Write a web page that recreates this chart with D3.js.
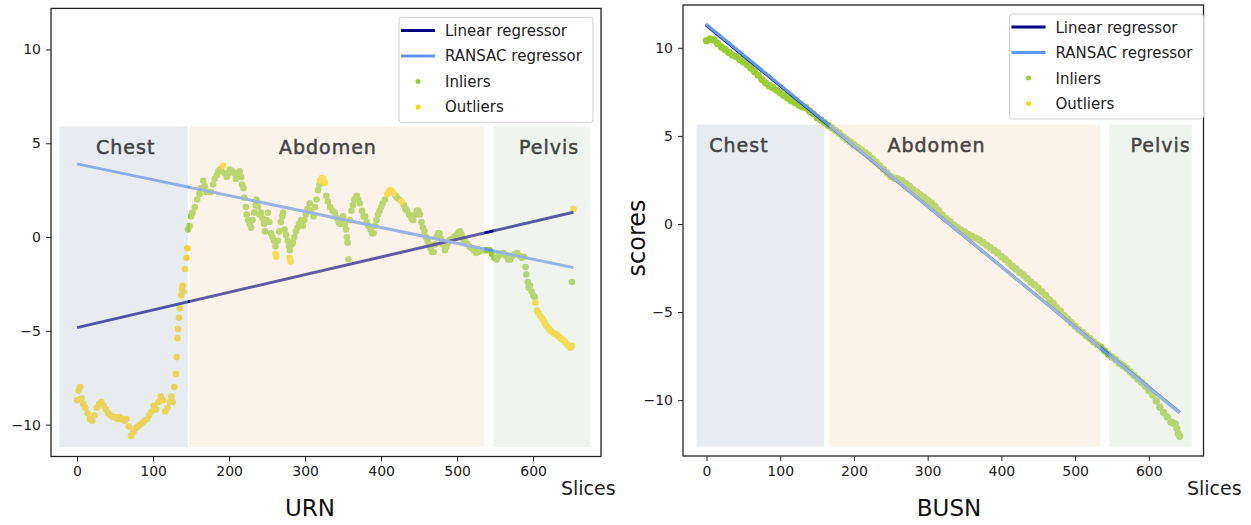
<!DOCTYPE html>
<html>
<head>
<meta charset="utf-8">
<script src="https://cdn.jsdelivr.net/npm/d3@7"></script>
<style>
  body { margin: 0; background: #fff; }
  text { font-family: 'DejaVu Sans', sans-serif; }
</style>
</head>
<body>
<div id="chart"></div>
<script>
// ---- data ----
const xTicks = [0, 100, 200, 300, 400, 500, 600]
const yTicks = [-10, -5, 0, 5, 10]
const legendLabels = ['Linear regressor', 'RANSAC regressor', 'Inliers', 'Outliers']
const regionNames = ['Chest', 'Abdomen', 'Pelvis']

// URN panel (slice, score)
const urnInliers = [
  [146,0.4],[148,0.6],[150,1.1],[152,1.3],[155,1.6],[158,2.0],[161,2.3],[163,2.6],[166,3.0],[168,2.7],
  [170,2.4],[173,2.4],[176,2.4],[179,2.8],[181,3.1],[184,3.3],[186,3.5],[188,3.6],[190,3.5],[194,3.4],
  [197,3.2],[199,3.4],[201,3.6],[204,3.5],[207,3.4],[209,3.1],[211,3.3],[214,3.5],[216,3.2],[217,2.8],
  [219,2.6],[220,2.1],[222,1.6],[223,1.2],[225,0.9],[227,0.7],[229,0.5],[231,0.9],[233,1.3],[235,1.7],
  [236,2.0],[238,1.6],[240,1.2],[242,1.3],[244,1.0],[246,0.7],[247,0.3],[249,0.9],[251,1.3],[253,0.8],
  [255,0.2],[257,0.0],[259,-0.2],[261,-0.5],[264,-0.2],[266,0.3],[268,0.8],[270,1.1],[271,1.3],[273,0.4],
  [275,0.1],[277,-0.2],[279,-0.5],[280,-0.7],[282,-0.4],[284,-0.3],[286,0.0],[288,0.3],[290,0.5],[292,0.7],
  [295,0.9],[297,0.6],[299,0.9],[301,1.2],[303,1.5],[306,1.8],[308,1.4],[311,1.1],[313,1.6],[315,2.0],
  [317,2.5],[319,2.8],[328,2.2],[330,1.9],[333,1.6],[336,1.4],[339,1.3],[342,1.0],[344,0.8],[346,0.7],
  [348,0.9],[350,1.1],[352,0.7],[354,0.4],[355,0.0],[356,-0.3],[357,-1.2],[359,0.9],[361,1.4],[363,1.7],
  [365,2.0],[368,2.2],[370,2.0],[372,1.8],[375,1.4],[377,1.1],[379,1.1],[381,0.8],[383,0.6],[386,0.4],
  [388,0.2],[390,0.2],[392,0.6],[394,0.9],[396,1.2],[398,1.4],[400,1.6],[402,1.8],[405,2.0],[419,2.2],
  [421,2.1],[424,2.0],[430,1.7],[432,1.5],[434,1.4],[437,1.2],[440,1.0],[442,0.9],[445,1.2],[447,1.4],
  [449,1.4],[451,1.2],[453,0.8],[455,0.5],[457,0.3],[459,0.0],[461,-0.2],[463,-0.4],[465,-0.6],[467,-0.8],
  [469,-0.8],[471,-0.4],[473,0.0],[475,0.2],[477,0.2],[479,-0.1],[481,-0.4],[484,-0.7],[486,-0.5],[488,-0.3],
  [490,-0.15],[493,-0.1],[496,0.0],[499,0.1],[502,0.25],[504,0.3],[506,0.1],[508,-0.1],[510,-0.2],[513,-0.35],
  [516,-0.5],[519,-0.6],[522,-0.7],[525,-0.85],[528,-0.8],[531,-0.7],[534,-0.7],[537,-0.7],[540,-0.7],[543,-0.7],
  [546,-0.9],[549,-1.1],[552,-1.2],[555,-1.0],[558,-0.9],[561,-0.85],[564,-1.0],[567,-1.2],[570,-1.2],[573,-1.0],
  [576,-0.9],[579,-0.85],[582,-1.0],[585,-1.1],[588,-1.05],[590,-1.6],[591,-2.0],[593,-2.4],[594,-2.7],[596,-2.6],
  [598,-2.9],[600,-3.1],[602,-3.2],[651,-2.4]
]
const urnOutliers = [
  [0,-8.7],[2,-8.2],[4,-8.0],[6,-8.6],[8,-8.9],[11,-9.1],[14,-9.4],[17,-9.7],[20,-9.8],[23,-9.5],
  [26,-9.1],[29,-8.9],[32,-8.8],[35,-9.0],[38,-9.2],[41,-9.4],[44,-9.5],[47,-9.6],[50,-9.6],[53,-9.7],
  [56,-9.6],[59,-9.7],[62,-9.8],[65,-9.7],[68,-10.1],[71,-10.6],[74,-10.4],[77,-10.2],[80,-10.1],[83,-10.0],
  [86,-9.9],[89,-9.8],[92,-9.7],[95,-9.5],[98,-9.3],[101,-9.0],[104,-9.2],[107,-8.8],[110,-8.5],[113,-8.7],
  [116,-9.3],[119,-9.1],[122,-8.8],[124,-8.5],[126,-8.8],[128,-8.0],[130,-7.3],[131,-6.4],[132,-5.4],[133,-4.9],
  [134,-4.3],[135,-3.8],[137,-3.1],[138,-2.8],[139,-2.6],[140,-2.9],[142,-1.7],[144,-1.1],[145,-0.6],
  [192,3.8],[261,-0.9],[262,-1.05],[280,-1.1],[281,-1.3],[320,3.0],[322,3.15],[324,3.1],[326,2.9],
  [408,2.3],[410,2.4],[412,2.5],[414,2.45],[416,2.35],[427,1.9],
  [603,-3.5],[605,-3.9],[607,-4.05],[609,-4.2],[611,-4.3],[613,-4.4],[615,-4.55],[617,-4.7],[619,-4.8],[621,-4.9],
  [623,-5.0],[626,-5.1],[628,-5.15],[631,-5.2],[633,-5.3],[636,-5.4],[638,-5.45],[640,-5.5],[642,-5.6],[644,-5.7],
  [646,-5.8],[649,-5.9],[651,-5.8],[653,1.5]
]
const urnLinear = [[0, -4.83], [653, 1.32]]
const urnRansac = [[0, 3.9], [653, -1.63]]
const urnRegions = [[-23.4, 145.6], [148.2, 535.9], [548, 674.9]]
const urnRegionScores = [5.9, -11.2]
const urnLabelSlices = [64, 330, 621]

// BUSN panel (slice, score)
const busnInliers = [
  [0,10.4],[5,10.5],[10,10.45],[15,10.25],[20,10.05],[25,9.9],[30,9.75],[35,9.6],[40,9.5],[45,9.35],
  [50,9.2],[55,9.05],[60,8.85],[65,8.65],[70,8.45],[75,8.2],[80,8.0],[85,7.85],[90,7.75],[95,7.6],
  [100,7.45],[105,7.3],[110,7.15],[115,7.0],[120,6.9],[125,6.75],[130,6.65],[135,6.6],[140,6.4],[145,6.25],
  [150,6.05],[155,5.9],[160,5.75],[165,5.6],[170,5.45],[175,5.3],[180,5.15],[185,4.95],[190,4.8],[195,4.65],
  [200,4.5],[205,4.35],[210,4.2],[215,4.05],[220,3.9],[225,3.7],[230,3.5],[235,3.3],[240,3.1],[245,2.9],
  [250,2.7],[255,2.6],[260,2.55],[265,2.45],[270,2.3],[275,2.15],[280,1.95],[285,1.8],[290,1.65],[295,1.5],
  [300,1.35],[305,1.2],[310,1.0],[315,0.75],[320,0.5],[325,0.3],[330,0.15],[335,-0.05],[340,-0.2],[345,-0.35],
  [350,-0.45],[355,-0.6],[360,-0.7],[365,-0.8],[370,-0.9],[375,-1.05],[380,-1.2],[385,-1.35],[390,-1.5],[395,-1.65],
  [400,-1.85],[405,-2.0],[410,-2.2],[415,-2.4],[420,-2.55],[425,-2.75],[430,-2.9],[435,-3.1],[440,-3.3],[445,-3.45],
  [450,-3.65],[455,-3.85],[460,-4.05],[465,-4.3],[470,-4.5],[475,-4.75],[480,-4.95],[485,-5.2],[490,-5.4],[495,-5.6],
  [500,-5.8],[505,-6.0],[510,-6.15],[515,-6.35],[520,-6.5],[525,-6.7],[530,-6.85],[535,-7.0],[540,-7.2],[545,-7.4],
  [550,-7.55],[555,-7.7],[560,-7.9],[565,-8.05],[570,-8.2],[575,-8.4],[580,-8.6],[585,-8.8],[590,-9.0],[595,-9.2],
  [600,-9.45],[605,-9.7],[610,-10.05],[615,-10.4],[620,-10.7],[625,-10.95],[630,-11.25],[633,-11.3],[636,-11.35],[638,-11.6],
  [640,-11.9],[642,-12.05]
]
const busnOutliers = []
const busnLinear = [[-1, 11.3], [642, -10.7]]
const busnRansac = [[-1, 11.35], [642, -10.73]]
const busnRegions = [[-13.6, 159.7], [166.4, 534.3], [546.5, 658.3]]
const busnRegionScores = [5.65, -12.63]
const busnLabelSlices = [44, 312, 616]

// ---- styles ----
const colors = {
  linear: '#000080',
  ransac: '#6495ed',
  inlier: '#9acd32',
  outlier: '#ffd700',
  regions: ['#c6d0dc', '#f2e1ca', '#d9e3d4']
}

const svg = d3.select('#chart').append('svg')
  .attr('width', 1251).attr('height', 525)
  .attr('viewBox', [0, 0, 1251, 525])

function drawPanel(o) {
  const x = d3.scaleLinear().domain(o.xDomain).range([o.left, o.right])
  const y = d3.scaleLinear().domain(o.yDomain).range([o.bottom, o.top])
  const g = svg.append('g')

  // axes
  g.append('g')
    .attr('transform', `translate(0,${o.bottom})`)
    .call(d3.axisBottom(x).tickValues(xTicks).tickSize(5).tickPadding(5))
    .call(a => a.select('.domain').remove())
    .call(a => a.selectAll('text').attr('font-size', 14).attr('fill', '#222'))
    .call(a => a.selectAll('line').attr('stroke', '#222'))
  g.append('g')
    .attr('transform', `translate(${o.left},0)`)
    .call(d3.axisLeft(y).tickValues(yTicks).tickSize(5).tickPadding(5))
    .call(a => a.select('.domain').remove())
    .call(a => a.selectAll('text').attr('font-size', 14).attr('fill', '#222'))
    .call(a => a.selectAll('line').attr('stroke', '#222'))

  const plot = g.append('g')
  const line = d3.line().x(d => x(d[0])).y(d => y(d[1]))

  plot.selectAll('circle.in').data(o.inliers).join('circle')
    .attr('class', 'in')
    .attr('cx', d => x(d[0])).attr('cy', d => y(d[1]))
    .attr('r', o.r).attr('fill', colors.inlier)
  plot.selectAll('circle.out').data(o.outliers).join('circle')
    .attr('class', 'out')
    .attr('cx', d => x(d[0])).attr('cy', d => y(d[1]))
    .attr('r', o.r).attr('fill', colors.outlier)

  plot.append('path').datum(o.linear).attr('d', line)
    .attr('fill', 'none').attr('stroke', colors.linear).attr('stroke-width', 3)
  plot.append('path').datum(o.ransac).attr('d', line)
    .attr('fill', 'none').attr('stroke', colors.ransac).attr('stroke-width', 3)

  // shaded regions drawn over the data, like axvspan
  o.regions.forEach((r, i) => {
    plot.append('rect')
      .attr('x', x(r[0])).attr('width', x(r[1]) - x(r[0]))
      .attr('y', y(o.regionScores[0]))
      .attr('height', y(o.regionScores[1]) - y(o.regionScores[0]))
      .attr('fill', colors.regions[i]).attr('fill-opacity', 0.4)
    plot.append('text')
      .attr('x', x(o.labelSlices[i]))
      .attr('y', y(o.regionScores[0]) + 28)
      .attr('text-anchor', 'middle')
      .attr('font-family', "'Open Sans', sans-serif")
      .attr('font-size', 19)
      .attr('letter-spacing', 1)
      .attr('fill', '#444')
      .attr('stroke', '#444').attr('stroke-width', 0.5)
      .text(regionNames[i])
  })

  // frame
  g.append('rect')
    .attr('x', o.left).attr('y', o.top)
    .attr('width', o.right - o.left).attr('height', o.bottom - o.top)
    .attr('fill', 'none').attr('stroke', '#222').attr('stroke-width', 1.3)

  // legend
  const lg = g.append('g').attr('transform', `translate(${o.legendX},${o.top + 9})`)
  lg.append('rect').attr('width', 194).attr('height', 105).attr('rx', 3)
    .attr('fill', '#fff').attr('stroke', '#d0d0d0')
  legendLabels.forEach((label, i) => {
    const cy = 13 + i * 25.5
    if (i < 2) {
      lg.append('line').attr('x1', 2).attr('x2', 36).attr('y1', cy).attr('y2', cy)
        .attr('stroke', i === 0 ? colors.linear : colors.ransac).attr('stroke-width', 3)
    } else {
      lg.append('circle').attr('cx', 19).attr('cy', cy).attr('r', 2.5)
        .attr('fill', i === 2 ? colors.inlier : colors.outlier)
    }
    lg.append('text').attr('x', 46).attr('y', cy + 5.5)
      .attr('font-size', 15).attr('fill', '#222').text(label)
  })

  // axis labels
  g.append('text').attr('x', o.slicesX).attr('y', 495)
    .attr('font-size', 19).attr('fill', '#222').text('Slices')
  g.append('text').attr('x', o.titleX).attr('y', 516)
    .attr('text-anchor', 'middle').attr('font-size', 23).attr('fill', '#111').text(o.title)
}

drawPanel({
  left: 51, right: 601, top: 8.4, bottom: 456.5,
  xDomain: [-34.3, 689.3], yDomain: [-11.7, 12.19],
  inliers: urnInliers, outliers: urnOutliers,
  linear: urnLinear, ransac: urnRansac,
  regions: urnRegions, regionScores: urnRegionScores, labelSlices: urnLabelSlices,
  r: 3.3, legendX: 399, title: 'URN', titleX: 310, slicesX: 561
})

drawPanel({
  left: 683, right: 1203.5, top: 5, bottom: 456,
  xDomain: [-31.9, 674.2], yDomain: [-13.17, 12.43],
  inliers: busnInliers, outliers: busnOutliers,
  linear: busnLinear, ransac: busnRansac,
  regions: busnRegions, regionScores: busnRegionScores, labelSlices: busnLabelSlices,
  r: 3.7, legendX: 1009.5, title: 'BUSN', titleX: 949, slicesX: 1187
})

svg.append('text')
  .attr('transform', 'translate(645,238) rotate(-90)')
  .attr('text-anchor', 'middle').attr('font-size', 24).attr('fill', '#111')
  .text('scores')
</script>
</body>
</html>
